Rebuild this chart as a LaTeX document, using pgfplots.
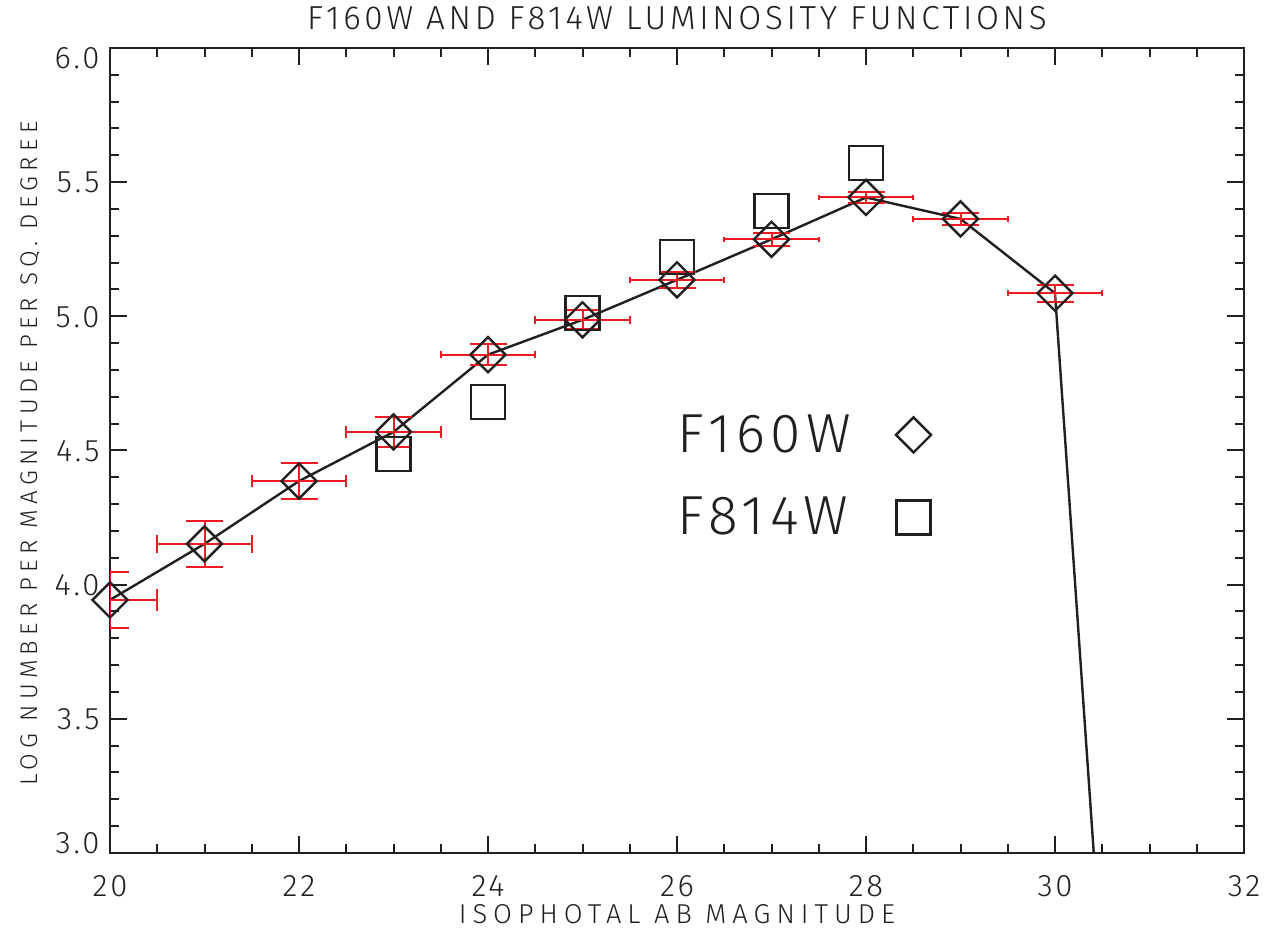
\documentclass[border=0pt]{standalone}
\usepackage{fontspec}
\setmainfont{Fira Sans Light}[LetterSpace=9]
\newfontfamily\titlefont{Fira Sans Light}[LetterSpace=11]
\newfontfamily\labelfont{Fira Sans Light}[LetterSpace=22]
\newfontfamily\ylabelfont{Fira Sans Light}[LetterSpace=22]
\newfontfamily\legfont{Fira Sans Light}[LetterSpace=10]
\usepackage{pgfplots}
\pgfplotsset{compat=1.18}
\definecolor{errred}{RGB}{237,28,36}
\definecolor{ink}{RGB}{35,31,32}

\begin{document}
\begin{tikzpicture}
\begin{axis}[
  scale only axis, width=567bp, height=402.5bp,
  at={(0,0)}, anchor=south west,
  xmin=20, xmax=32, ymin=3, ymax=6,
  xtick={20,22,...,32}, ytick={3,3.5,...,6},
  yticklabels={\raisebox{5bp}{3.0},3.5,4.0,4.5,5.0,5.5,\raisebox{-5bp}{6.0}},
  minor x tick num=3, minor y tick num=4,
  tick align=inside, major tick length=8.5bp, minor tick length=4.5bp,
  axis line style={ink, line width=1bp},
  every tick/.style={ink, line width=1bp},
  /pgf/number format/assume math mode=true,
  ticklabel style={font=\fontsize{15.6}{18}\selectfont, text=ink},
  xticklabel style={anchor=base, yshift=-22bp},
  yticklabel style={anchor=base east, inner sep=0pt, xshift=-5bp, yshift=-5.4bp},
  title={F160W AND F814W LUMINOSITY FUNCTIONS},
  title style={at={(axis description cs:0.5,1.0075)}, anchor=base, yshift=0pt,
    font=\titlefont\fontsize{16.7}{20}\selectfont, text=ink, inner sep=0pt},
  xlabel={ISOPHOTAL AB MAGNITUDE},
  xlabel style={at={(axis description cs:0.5,-0.0870)}, anchor=base,
    font=\labelfont\fontsize{13.7}{15}\selectfont, text=ink, inner sep=0pt},
  ylabel={LOG NUMBER PER MAGNITUDE PER SQ. DEGREE},
  ylabel style={at={(axis description cs:-0.0705,0.496)}, anchor=center,
    font=\ylabelfont\fontsize{12.1}{15}\selectfont, text=ink, inner sep=0pt},
  legend style={draw=none, fill=none, at={(axis cs:25.9,4.665)}, anchor=north west,
    font=\legfont\fontsize{27.6}{33}\selectfont, text=ink, row sep=17bp,
    /tikz/every odd column/.append style={column sep=20.5bp}},
  legend plot pos=right, legend cell align=left,
]

% F160W: line with diamonds
\addplot[ink, line width=1.2bp, mark=square, mark size=6.2bp,
  mark options={rotate=45, line width=1.2bp}, forget plot] coordinates {
  (20,3.943) (21,4.152) (22,4.386) (23,4.569) (24,4.857) (25,4.987)
  (26,5.136) (27,5.287) (28,5.443) (29,5.363) (30,5.086) (31,0.0)
};

% F814W: squares
\addplot[ink, only marks, mark=square, mark size=8.5bp,
  mark options={line width=1.2bp}, forget plot] coordinates {
  (23,4.487) (24,4.681) (25,5.013) (26,5.221) (27,5.393) (28,5.572)
};

% vertical error bars
\addplot[draw=none, mark=none, forget plot,
  error bars/.cd, y dir=both, y explicit,
  error bar style={draw=errred, line width=1bp},
  error mark options={rotate=90, draw=errred, mark size=9.25bp, line width=1bp}] coordinates {
  (20,3.943) +- (0,0.106)
  (21,4.152) +- (0,0.086)
  (22,4.386) +- (0,0.066)
  (23,4.569) +- (0,0.056)
  (24,4.857) +- (0,0.040)
  (25,4.987) +- (0,0.036)
  (26,5.136) +- (0,0.029)
  (27,5.287) +- (0,0.025)
  (28,5.443) +- (0,0.020)
  (29,5.363) +- (0,0.023)
  (30,5.086) +- (0,0.031)
};

% horizontal error bars (bin width), caps grouped by size
\addplot[draw=none, mark=none, forget plot,
  error bars/.cd, x dir=both, x fixed=0.5,
  error bar style={draw=errred, line width=1bp},
  error mark options={rotate=90, draw=errred, mark size=5.4bp, line width=1bp}] coordinates {(20,3.943)};
\addplot[draw=none, mark=none, forget plot,
  error bars/.cd, x dir=both, x fixed=0.5,
  error bar style={draw=errred, line width=1bp},
  error mark options={rotate=90, draw=errred, mark size=4.4bp, line width=1bp}] coordinates {(21,4.152)};
\addplot[draw=none, mark=none, forget plot,
  error bars/.cd, x dir=both, x fixed=0.5,
  error bar style={draw=errred, line width=1bp},
  error mark options={rotate=90, draw=errred, mark size=3.2bp, line width=1bp}] coordinates {(22,4.386) (23,4.569)};
\addplot[draw=none, mark=none, forget plot,
  error bars/.cd, x dir=both, x fixed=0.5,
  error bar style={draw=errred, line width=1bp},
  error mark options={rotate=90, draw=errred, mark size=1.9bp, line width=1bp}] coordinates {(24,4.857) (25,4.987)};
\addplot[draw=none, mark=none, forget plot,
  error bars/.cd, x dir=both, x fixed=0.5,
  error bar style={draw=errred, line width=1bp},
  error mark options={rotate=90, draw=errred, mark size=1.4bp, line width=1bp}] coordinates {
  (26,5.136) (27,5.287) (28,5.443) (29,5.363) (30,5.086)
};

\addlegendimage{ink, only marks, mark=square, mark size=6.2bp, mark options={rotate=45, line width=1.2bp}}
\addlegendentry{F160W}
\addlegendimage{ink, only marks, mark=square, mark size=8.5bp, mark options={line width=1.2bp}}
\addlegendentry{F814W}
\end{axis}
\path[use as bounding box] (-55bp,-43bp) rectangle (583bp,426.5bp);
\end{tikzpicture}
\end{document}
